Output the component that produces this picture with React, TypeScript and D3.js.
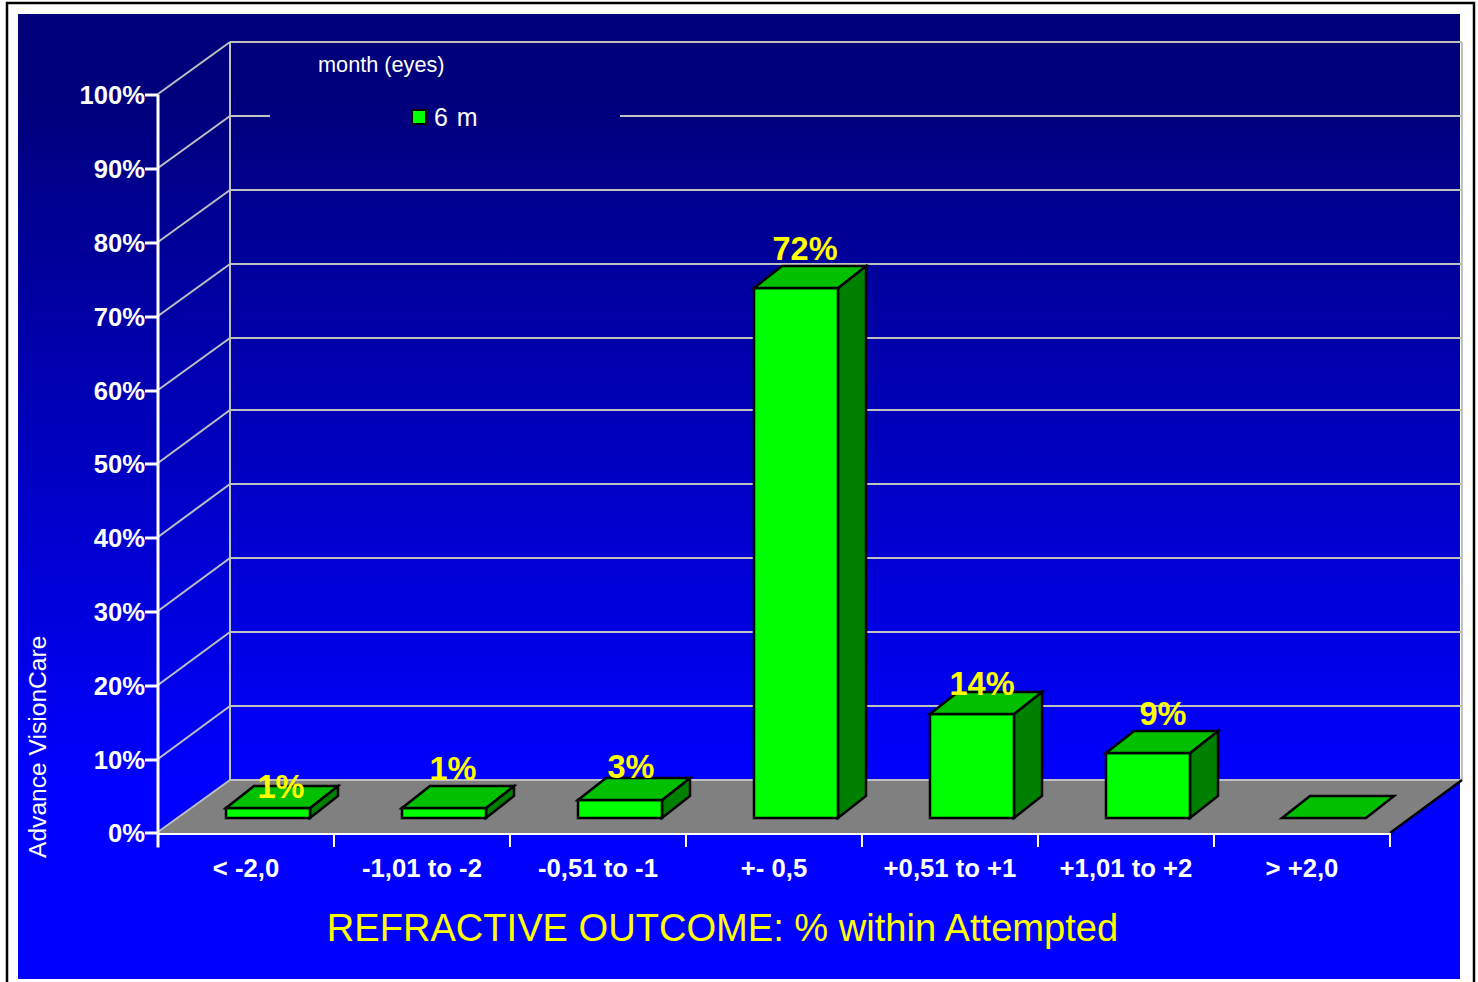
import React from "react";
import * as d3 from "d3";

// Share of eyes per refractive outcome bin at 6 months (percent).
const categories = ["< -2,0", "-1,01 to -2", "-0,51 to -1", "+- 0,5", "+0,51 to +1", "+1,01 to +2", "> +2,0"];
const outcomeShare = [1.4, 1.4, 2.5, 71.9, 14.1, 8.9, 0];
const axisTicks = [0, 10, 20, 30, 40, 50, 60, 70, 80, 90, 100];
const seriesName = "6 m";
const legendTitle = "month (eyes)";
const chartTitle = "REFRACTIVE OUTCOME: % within Attempted";
const sideCaption = "Advance VisionCare";

const W = 1478;
const H = 982;
const FONT = "'Liberation Sans', Arial, sans-serif";

// Oblique projection of the chart box
const frontLeft = 158;
const frontRight = 1390;
const floorY = 833.4;
const topY = 95.4;
const wallDx = 72;
const wallDy = -53;

// Bars sit part way into the floor
const barWidth = 84;
const barInsetX = 22;
const barInsetY = -15;
const barDx = 28;
const barDy = -22;

// Hand-placed value labels, relative to the bar's front-face centre and top
const labelNudge = [
  [13, -10],
  [9, -28],
  [11, -22],
  [9, -28],
  [10, -19],
  [15, -28],
];

const x = d3.scaleBand<string>().domain(categories).range([frontLeft, frontRight]).paddingInner(0);
const y = d3.scaleLinear().domain([0, 100]).range([floorY, topY]);
// The back wall's pixel rows are slightly uneven around the middle of the range
const wallY = d3.scaleLinear().domain([0, 50, 60, 100]).range([780, 410, 338, 42]);
const snap = (t: number) => Math.round(y(t));
const pct = d3.format(".0f");

const poly = (pts: [number, number][]) => d3.line()(pts) + "Z";

function Bar({ cat, value }: { cat: string; value: number }) {
  const band = x.bandwidth();
  const left = (x(cat) as number) + (band - barWidth) / 2 + barInsetX;
  const right = left + barWidth;
  const base = Math.round(floorY) + barInsetY;
  const top = Math.round(y(value) + barInsetY);
  const stroke = { stroke: "#000", strokeWidth: 2.5, strokeLinejoin: "miter" as const };
  return (
    <g>
      {value > 0 && (
        <>
          <path d={poly([[right, top], [right + barDx, top + barDy], [right + barDx, base + barDy], [right, base]])} fill="#008000" {...stroke} />
          <rect x={left} y={top} width={barWidth} height={base - top} fill="#00ff00" {...stroke} />
        </>
      )}
      <path d={poly([[left, top], [left + barDx, top + barDy], [right + barDx, top + barDy], [right, top]])} fill="#00c000" {...stroke} />
    </g>
  );
}

export default function App() {
  const band = x.bandwidth();
  const boundaries = [...categories.map((c) => x(c) as number), frontRight];
  const floor = Math.round(floorY);
  const wallLeft = frontLeft + wallDx;
  const wallRight = frontRight + wallDx;
  return (
    <svg width={W} height={H} style={{ position: "absolute", left: 0, top: 0, background: "#fff" }} fontFamily={FONT}>
      <defs>
        <linearGradient id="panelFill" gradientUnits="userSpaceOnUse" x1="0" y1="14" x2="0" y2="979">
          <stop offset="0" stopColor="#000078" />
          <stop offset="0.1" stopColor="#00007e" />
          <stop offset="0.8" stopColor="#0000ff" />
          <stop offset="1" stopColor="#0000ff" />
        </linearGradient>
      </defs>
      <rect x={7} y={3} width={1467} height={H + 10} fill="#fff" stroke="#000" strokeWidth={2.5} />
      <rect x={18} y={14} width={1442} height={965} fill="url(#panelFill)" />

      {/* floor */}
      <path d={poly([[frontLeft, floor], [wallLeft, wallY(0)], [wallRight, wallY(0)], [frontRight, floor]])} fill="#808080" />

      {/* gridlines on the side and back walls */}
      {axisTicks.map((t) => (
        <g key={t} stroke="#c0c0c0" strokeWidth={2} fill="none">
          <line x1={frontLeft} y1={snap(t) - 1} x2={wallLeft} y2={wallY(t)} />
          <line x1={wallLeft} y1={wallY(t)} x2={wallRight} y2={wallY(t)} />
        </g>
      ))}
      <line x1={wallLeft} y1={wallY(0)} x2={wallLeft} y2={wallY(100)} stroke="#c0c0c0" strokeWidth={2} />
      <line x1={wallRight} y1={wallY(0)} x2={wallRight} y2={wallY(100)} stroke="#c0c0c0" strokeWidth={2} />
      <line x1={frontRight} y1={floor} x2={wallRight} y2={wallY(0)} stroke="#000" strokeWidth={2.5} />

      {/* legend */}
      <rect x={270} y={100} width={350} height={30} fill="url(#panelFill)" />
      <text x={318} y={72} fontSize={21.7} fill="#fff">{legendTitle}</text>
      <rect x={412} y={110} width={14} height={14} fill="#00ff00" stroke="#000" strokeWidth={2} />
      <text x={434} y={126} fontSize={25} fill="#fff" letterSpacing={1}>{seriesName}</text>

      {/* bars */}
      {categories.map((c, i) => (
        <Bar key={c} cat={c} value={outcomeShare[i]} />
      ))}

      {/* value axis */}
      <line x1={frontLeft} y1={topY - 1} x2={frontLeft} y2={floorY + 14} stroke="#fff" strokeWidth={3} />
      {axisTicks.map((t) => (
        <g key={t}>
          <line x1={frontLeft - 13} y1={snap(t)} x2={frontLeft} y2={snap(t)} stroke="#fff" strokeWidth={3} />
          <text x={frontLeft - 13} y={y(t) + 9} textAnchor="end" fontSize={25.6} fontWeight="bold" fill="#fff">{t}%</text>
        </g>
      ))}

      {/* category axis */}
      <line x1={frontLeft} y1={floor + 1} x2={frontRight} y2={floor + 1} stroke="#fff" strokeWidth={2} />
      {boundaries.map((b, i) => (
        <line key={i} x1={b} y1={floor} x2={b} y2={floor + 14} stroke="#fff" strokeWidth={2} />
      ))}
      {categories.map((c) => (
        <text key={c} x={(x(c) as number) + band / 2} y={877} textAnchor="middle" fontSize={25.7} fontWeight="bold" fill="#fff">{c}</text>
      ))}

      {/* value labels */}
      {categories.map((c, i) =>
        outcomeShare[i] > 0 ? (
          <text
            key={c}
            x={(x(c) as number) + (band - barWidth) / 2 + barInsetX + barWidth / 2 + labelNudge[i][0]}
            y={Math.round(y(outcomeShare[i]) + barInsetY) + labelNudge[i][1]}
            textAnchor="middle"
            fontSize={32.5}
            fontWeight="bold"
            fill="#ffff00"
          >
            {pct(outcomeShare[i])}%
          </text>
        ) : null
      )}

      <text x={722.5} y={941} textAnchor="middle" fontSize={38.1} fill="#ffff00">{chartTitle}</text>
      <text transform="translate(46,858) rotate(-90)" fontSize={24.6} fill="#fff">{sideCaption}</text>
    </svg>
  );
}
